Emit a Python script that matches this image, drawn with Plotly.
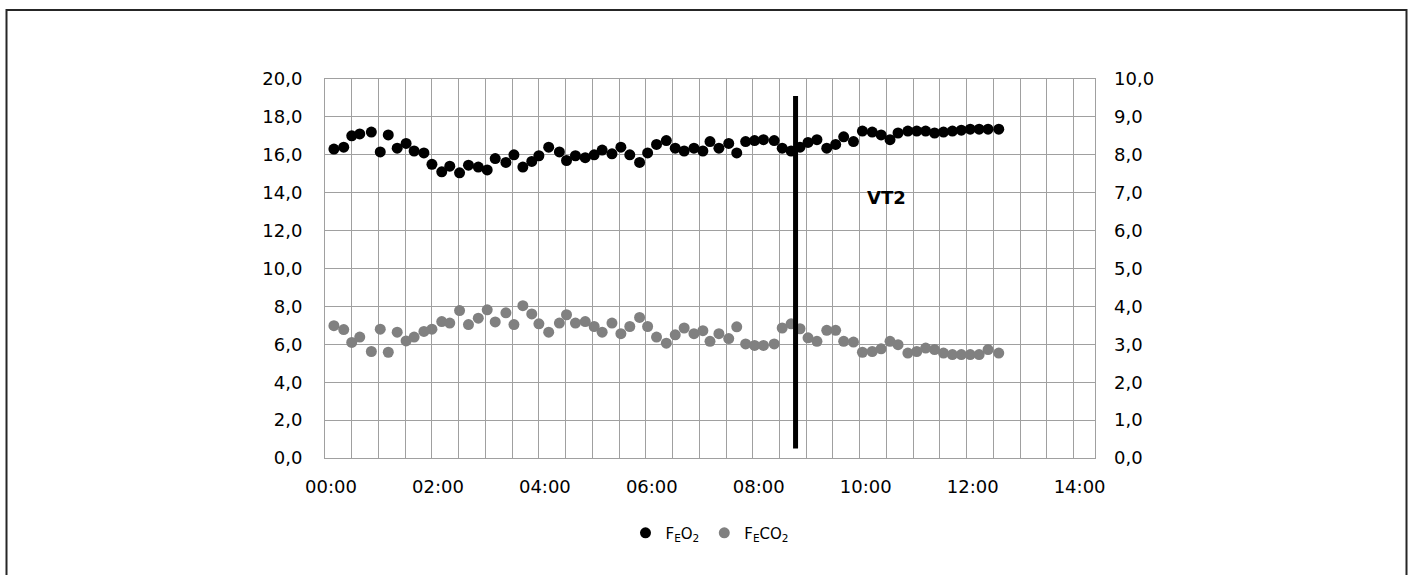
import plotly.graph_objects as go

# ---- data ----
time_s = [10, 21, 30, 39, 52, 62, 71, 81, 91, 100,
          111, 120, 131, 140, 151, 161, 172, 182, 191, 203,
          212, 222, 232, 240, 251, 263, 271, 281, 292, 302,
          311, 322, 332, 342, 353, 362, 372, 383, 393, 403,
          414, 424, 432, 442, 453, 462, 472, 482, 492, 504,
          513, 523, 533, 542, 552, 563, 573, 582, 593, 603,
          614, 624, 634, 643, 654, 664, 674, 684, 694, 704,
          714, 724, 734, 744, 756]

fe_o2 = [16.3, 16.4, 17.0, 17.1, 17.2, 16.15, 17.05, 16.35, 16.6, 16.2,
         16.1, 15.5, 15.1, 15.4, 15.05, 15.45, 15.35, 15.2, 15.8, 15.6,
         16.0, 15.35, 15.65, 15.95, 16.4, 16.15, 15.7, 15.95, 15.85, 16.0,
         16.25, 16.05, 16.4, 16.0, 15.6, 16.1, 16.55, 16.75, 16.35, 16.2,
         16.35, 16.2, 16.7, 16.35, 16.6, 16.1, 16.7, 16.75, 16.8, 16.75,
         16.35, 16.2, 16.4, 16.65, 16.8, 16.35, 16.55, 16.95, 16.7, 17.25,
         17.2, 17.05, 16.8, 17.15, 17.25, 17.25, 17.25, 17.15, 17.2, 17.25,
         17.3, 17.35, 17.35, 17.35, 17.35]

fe_co2 = [3.49, 3.39, 3.05, 3.19, 2.81, 3.40, 2.79, 3.32, 3.09, 3.19,
          3.34, 3.40, 3.60, 3.56, 3.89, 3.52, 3.69, 3.91, 3.59, 3.83,
          3.52, 4.02, 3.80, 3.54, 3.32, 3.56, 3.78, 3.56, 3.60, 3.47,
          3.32, 3.56, 3.28, 3.47, 3.71, 3.47, 3.19, 3.03, 3.25, 3.43,
          3.28, 3.36, 3.08, 3.28, 3.15, 3.46, 3.01, 2.97, 2.97, 3.01,
          3.43, 3.54, 3.41, 3.17, 3.08, 3.37, 3.37, 3.08, 3.06, 2.79,
          2.81, 2.88, 3.08, 2.99, 2.77, 2.81, 2.90, 2.86, 2.77, 2.73,
          2.73, 2.73, 2.73, 2.86, 2.77]

x_tick_vals = [0, 2, 4, 6, 8, 10, 12, 14]
x_tick_text = ["00:00", "02:00", "04:00", "06:00", "08:00", "10:00", "12:00", "14:00"]

vt2_time_min = 8.80
vt2_label = "VT2"

t_min = [s / 60 for s in time_s]

FONT = "DejaVu Sans"
GRID = "#a0a0a0"

fig = go.Figure()
fig.add_trace(go.Scatter(
    x=t_min, y=fe_o2, mode="markers", name="F<sub>E</sub>O<sub>2</sub>",
    marker=dict(color="#000000", size=11), yaxis="y"))
fig.add_trace(go.Scatter(
    x=t_min, y=fe_co2, mode="markers", name="F<sub>E</sub>CO<sub>2</sub>",
    marker=dict(color="#808080", size=11), yaxis="y2"))

fig.update_layout(
    width=1413, height=575, autosize=False,
    margin=dict(l=325, r=318, t=79, b=117),
    paper_bgcolor="white", plot_bgcolor="white",
    separators=", ",
    font=dict(family=FONT, size=18, color="#000000"),
    showlegend=True,
    legend=dict(orientation="h", x=0.5, xanchor="center", y=-0.198, yanchor="middle",
                font=dict(family=FONT, size=15, color="#000000"), itemwidth=30),
    xaxis=dict(range=[0, 14.4], tickmode="array", tickvals=x_tick_vals, ticktext=x_tick_text,
               showgrid=True, gridcolor=GRID, gridwidth=1, zeroline=False,
               showline=True, linecolor=GRID, linewidth=1, mirror=True,
               ticks="", ticklabelstandoff=12, ticklabelshift=6,
               minor=dict(tickmode="linear", tick0=0, dtick=0.5, showgrid=True,
                          gridcolor=GRID, gridwidth=1)),
    yaxis=dict(range=[0, 20], dtick=2, tick0=0, tickformat=".1f",
               showgrid=True, gridcolor=GRID, gridwidth=1, zeroline=False,
               showline=True, linecolor=GRID, linewidth=1, mirror=True,
               ticks="", ticklabelstandoff=18),
    yaxis2=dict(range=[0, 10], dtick=1, tick0=0, tickformat=".1f", overlaying="y", side="right",
                showgrid=False, zeroline=False, showline=False,
                ticks="", ticklabelstandoff=18),
    shapes=[
        dict(type="line", xref="x", yref="y", x0=vt2_time_min, x1=vt2_time_min, y0=0.5, y1=19.1,
             line=dict(color="#000000", width=5)),
        dict(type="rect", xref="paper", yref="paper",
             x0=(6.5 - 325) / 770, x1=(1406.5 - 325) / 770,
             y0=(458 - 620) / 379, y1=(458 - 10) / 379,
             line=dict(color="#262626", width=2), fillcolor="rgba(0,0,0,0)", layer="above"),
    ],
    annotations=[
        dict(x=10.5, y=13.75, xref="x", yref="y", text="<b>" + vt2_label + "</b>",
             showarrow=False, font=dict(family=FONT, size=18, color="#000000")),
    ],
)

fig.write_html(
    "out.html",
    config={"displayModeBar": False},
    post_script="document.body.style.margin='0';document.body.style.overflow='hidden';",
)
